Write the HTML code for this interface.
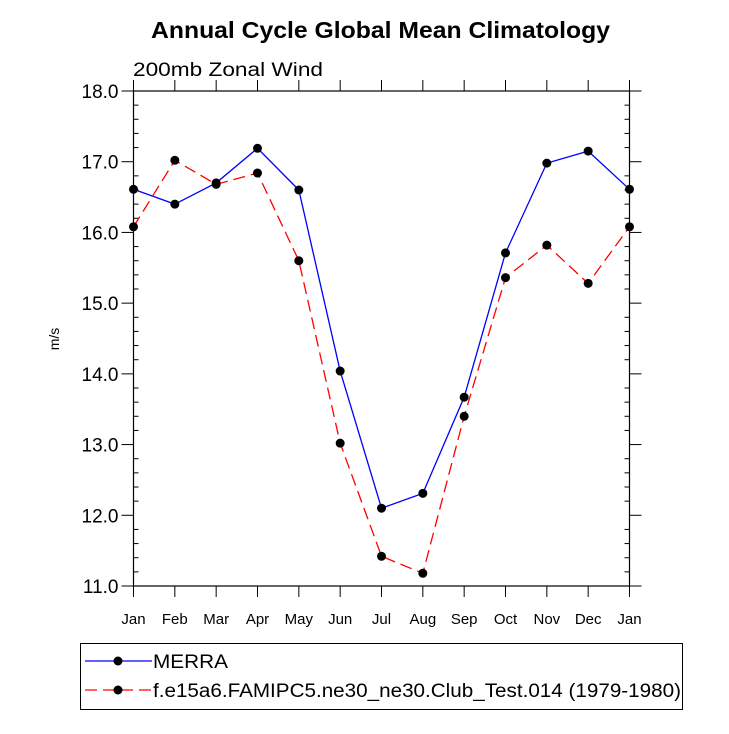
<!DOCTYPE html>
<html><head><meta charset="utf-8"><style>
body{margin:0;background:#fff}
svg text{font-family:"Liberation Sans",sans-serif}
</style></head><body>
<svg id="c" width="729" height="729">
<text x="151" y="38" font-size="23" font-weight="bold" textLength="459" lengthAdjust="spacingAndGlyphs">Annual Cycle Global Mean Climatology</text>
<text x="133" y="76" font-size="19" textLength="190" lengthAdjust="spacingAndGlyphs">200mb Zonal Wind</text>
<text x="0" y="0" font-size="14" transform="translate(59,339) rotate(-90)" text-anchor="middle">m/s</text>
<g id="axes"></g><g id="series"></g>
<rect x="80.5" y="643.5" width="602" height="66" fill="none" stroke="#000"/>
<g>
<line x1="85" y1="661" x2="152" y2="661" stroke="#00f" stroke-width="1.3"/>
<circle cx="118" cy="661" r="4.5"/>
<text x="153" y="668" font-size="19" textLength="75" lengthAdjust="spacingAndGlyphs">MERRA</text></g>
<g>
<line x1="85" y1="690" x2="152" y2="690" stroke="#f00" stroke-width="1.3" stroke-dasharray="12,6"/>
<circle cx="118" cy="690" r="4.5"/>
<text x="153" y="697" font-size="19" textLength="528" lengthAdjust="spacingAndGlyphs">f.e15a6.FAMIPC5.ne30_ne30.Club_Test.014 (1979-1980)</text></g>
</svg>
<script>
const months=["Jan","Feb","Mar","Apr","May","Jun","Jul","Aug","Sep","Oct","Nov","Dec","Jan"];
const merra=[16.61,16.40,16.70,17.19,16.60,14.04,12.10,12.31,13.67,15.71,16.98,17.15,16.61];
const model=[16.08,17.02,16.68,16.84,15.60,13.02,11.42,11.18,13.40,15.36,15.82,15.28,16.08];
const yTicks=["11.0","12.0","13.0","14.0","15.0","16.0","17.0","18.0"];
const L=133.5,R=629.5,T=91,B=586,yMin=11,yMax=18;
const ns="http://www.w3.org/2000/svg";
const xs=i=>L+(R-L)*i/(months.length-1);
const ys=v=>B-(v-yMin)/(yMax-yMin)*(B-T);
function mk(tag,at,par){const e=document.createElementNS(ns,tag);for(const k in at)e.setAttribute(k,at[k]);par.appendChild(e);return e;}
const ax=document.getElementById('axes');
const fr=mk('rect',{x:L,y:T,width:R-L,height:B-T,fill:'none',stroke:'#000','stroke-width':1.2},ax);


months.forEach((m,i)=>{const x=xs(i);
mk('line',{x1:x,y1:T,x2:x,y2:T-11,stroke:'#000'},ax);
mk('line',{x1:x,y1:B,x2:x,y2:B+11,stroke:'#000'},ax);
const t=mk('text',{x:x,y:B+38,'text-anchor':'middle','font-size':15},ax);t.textContent=m;

});
yTicks.forEach((s,i)=>{const v=parseFloat(s),y=ys(v);
mk('line',{x1:L,y1:y,x2:L-12,y2:y,stroke:'#000'},ax);
mk('line',{x1:R,y1:y,x2:R+12,y2:y,stroke:'#000'},ax);
const t=mk('text',{x:L-15,y:y+7,'text-anchor':'end','font-size':19},ax);t.textContent=s;


if(i<yTicks.length-1)for(let k=1;k<5;k++){const yy=ys(v+k*0.2);
mk('line',{x1:L,y1:yy,x2:L+5,y2:yy,stroke:'#000'},ax);
mk('line',{x1:R,y1:yy,x2:R-5,y2:yy,stroke:'#000'},ax);}});
const sg=document.getElementById('series');
function series(d,col,dash,name){const g=mk('g',{},sg);


const at={points:d.map((v,i)=>xs(i)+','+ys(v)).join(' '),fill:'none',stroke:col,'stroke-width':1.3};
if(dash)at['stroke-dasharray']=dash;mk('polyline',at,g);
d.forEach((v,i)=>{const c=mk('circle',{cx:xs(i),cy:ys(v),r:4.5},g);

});}
series(merra,'#00f',null,'series-merra');
series(model,'#f00','12,6','series-model');
</script>
</body></html>
